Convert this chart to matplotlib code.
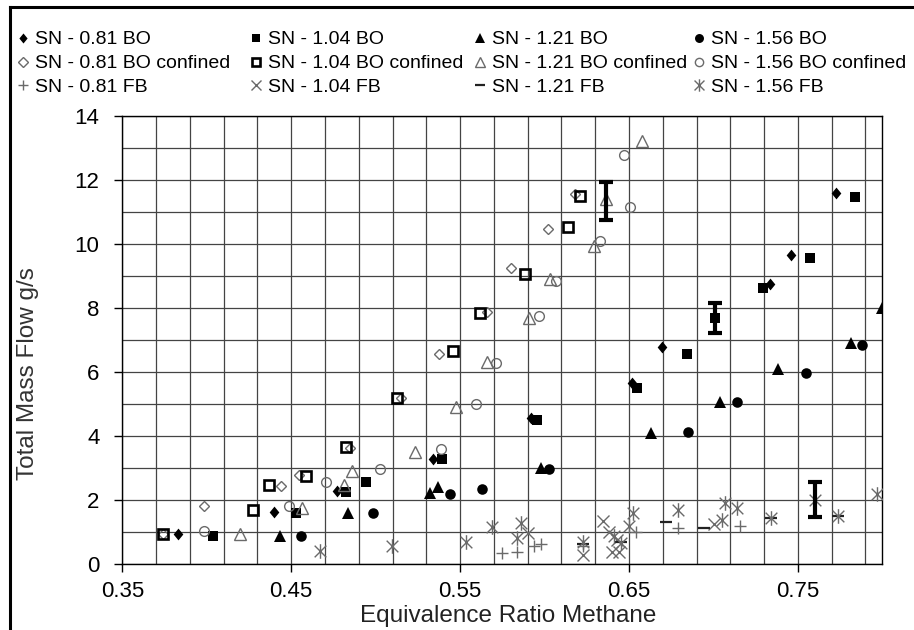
import numpy as np
import matplotlib
matplotlib.use("Agg")
import matplotlib.pyplot as plt
from matplotlib.path import Path
from matplotlib.lines import Line2D

plt.rcParams['font.family'] = ['Liberation Sans', 'DejaVu Sans']

# ---------------- data ----------------
sn_labels = ["SN - 0.81", "SN - 1.04", "SN - 1.21", "SN - 1.56"]

# Burn-out (BO), open
bo_081_x = [0.3832, 0.4397, 0.4771, 0.5338, 0.5917, 0.6520, 0.6693, 0.7335, 0.7462, 0.7725]
bo_081_y = [0.94, 1.62, 2.28, 3.27, 4.56, 5.65, 6.78, 8.73, 9.64, 11.59]
bo_104_x = [0.4039, 0.4530, 0.4826, 0.4945, 0.5395, 0.5956, 0.6545, 0.6845, 0.7009, 0.7296, 0.7572, 0.7839]
bo_104_y = [0.88, 1.60, 2.24, 2.56, 3.27, 4.49, 5.50, 6.55, 7.67, 8.60, 9.54, 11.46]
bo_121_x = [0.4435, 0.4834, 0.5320, 0.5370, 0.5980, 0.6628, 0.7039, 0.7380, 0.7814, 0.7997]
bo_121_y = [0.88, 1.60, 2.23, 2.41, 3.00, 4.08, 5.06, 6.08, 6.89, 7.98]
bo_156_x = [0.4559, 0.4984, 0.5438, 0.5630, 0.6025, 0.6849, 0.7142, 0.7547, 0.7877]
bo_156_y = [0.86, 1.58, 2.17, 2.33, 2.95, 4.11, 5.05, 5.96, 6.83]

# Burn-out, confined
cf_081_x = [0.3740, 0.3984, 0.4439, 0.4547, 0.4846, 0.5150, 0.5373, 0.5660, 0.5802, 0.6022, 0.6183]
cf_081_y = [0.94, 1.81, 2.42, 2.77, 3.63, 5.19, 6.57, 7.87, 9.23, 10.45, 11.54]
cf_104_x = [0.3740, 0.4271, 0.4368, 0.4587, 0.4826, 0.5126, 0.5459, 0.5620, 0.5883, 0.6138, 0.6213]
cf_104_y = [0.94, 1.68, 2.46, 2.75, 3.66, 5.19, 6.66, 7.85, 9.04, 10.52, 11.48]
cf_121_x = [0.4198, 0.4563, 0.4814, 0.4860, 0.5231, 0.5478, 0.5660, 0.5911, 0.6031, 0.6292, 0.6366, 0.6575]
cf_121_y = [0.93, 1.74, 2.46, 2.90, 3.50, 4.91, 6.29, 7.67, 8.89, 9.93, 11.38, 13.20]
cf_156_x = [0.3984, 0.4488, 0.4706, 0.5027, 0.5387, 0.5597, 0.5713, 0.5966, 0.6069, 0.6328, 0.6505, 0.6470]
cf_156_y = [1.02, 1.81, 2.56, 2.96, 3.59, 4.98, 6.26, 7.74, 8.83, 10.08, 11.13, 12.78]

# Flashback (FB)
fb_081_x = [0.5749, 0.5838, 0.5940, 0.5982, 0.6227, 0.6540, 0.6792, 0.7157]
fb_081_y = [0.33, 0.38, 0.57, 0.62, 0.55, 1.01, 1.11, 1.20]
fb_104_x = [0.5903, 0.6227, 0.6345, 0.6380, 0.6430, 0.6400, 0.6440, 0.7003]
fb_104_y = [0.96, 0.28, 1.35, 1.01, 0.75, 0.38, 0.38, 1.25]
fb_121_x = [0.6227, 0.6721, 0.6944, 0.7339, 0.7735, 0.6450]
fb_121_y = [0.62, 1.30, 1.11, 1.43, 1.51, 0.70]
fb_156_x = [0.4672, 0.5099, 0.5536, 0.5690, 0.5859, 0.5838, 0.6227, 0.6410, 0.6450, 0.6500,
            0.6526, 0.6792, 0.7053, 0.7068, 0.7142, 0.7339, 0.7602, 0.7735, 0.7968]
fb_156_y = [0.41, 0.56, 0.68, 1.16, 1.29, 0.80, 0.70, 0.87, 0.65, 1.19,
            1.60, 1.68, 1.37, 1.89, 1.74, 1.43, 2.00, 1.51, 2.17]

# error bars (x, y, lower, upper)
err_x = [0.6366, 0.7009, 0.7602]
err_y = [11.38, 7.67, 2.00]
err_lo = [10.73, 7.20, 1.48]
err_hi = [11.93, 8.15, 2.57]

x_ticks = [0.35, 0.45, 0.55, 0.65, 0.75]
y_ticks = [0, 2, 4, 6, 8, 10, 12, 14]

# ---------------- styles ----------------
GRAY = '#6a6a6a'
diamond = Path([(0, 1), (0.82, 0), (0, -1), (-0.82, 0), (0, 1)],
               [Path.MOVETO, Path.LINETO, Path.LINETO, Path.LINETO, Path.CLOSEPOLY])
asterisk = Path([(-1, -1), (1, 1), (-1, 1), (1, -1), (0, -1.25), (0, 1.25)],
                [Path.MOVETO, Path.LINETO, Path.MOVETO, Path.LINETO, Path.MOVETO, Path.LINETO])

bo_style = [dict(marker=diamond, ms=8.5, mfc='black', mec='black', mew=0),
            dict(marker='s', ms=7.6, mfc='black', mec='black', mew=0),
            dict(marker='^', ms=8.0, mfc='black', mec='black', mew=0),
            dict(marker='o', ms=7.6, mfc='black', mec='black', mew=0)]
cf_style = [dict(marker='D', ms=5.6, mfc='none', mec=GRAY, mew=1.0),
            dict(marker='s', ms=7.2, mfc='none', mec='black', mew=1.9),
            dict(marker='^', ms=8.5, mfc='none', mec=GRAY, mew=1.0),
            dict(marker='o', ms=7.0, mfc='none', mec=GRAY, mew=1.0)]
fb_style = [dict(marker='+', ms=8.0, mfc='none', mec=GRAY, mew=1.0),
            dict(marker='x', ms=8.5, mfc='none', mec=GRAY, mew=1.0),
            dict(marker='_', ms=8.0, mfc='none', mec='#222222', mew=1.6),
            dict(marker=asterisk, ms=10.5, mfc='none', mec=GRAY, mew=1.0)]

# ---------------- figure ----------------
W, H = 914, 630
fig = plt.figure(figsize=(W / 100, H / 100), dpi=100)
L, R, T, B = 122.3, 882.3, 115.5, 564.0
ax = fig.add_axes([L / W, 1 - B / H, (R - L) / W, (B - T) / H])

series = [
    (bo_081_x, bo_081_y, bo_style[0]), (bo_104_x, bo_104_y, bo_style[1]),
    (bo_121_x, bo_121_y, bo_style[2]), (bo_156_x, bo_156_y, bo_style[3]),
    (cf_081_x, cf_081_y, cf_style[0]), (cf_104_x, cf_104_y, cf_style[1]),
    (cf_121_x, cf_121_y, cf_style[2]), (cf_156_x, cf_156_y, cf_style[3]),
    (fb_081_x, fb_081_y, fb_style[0]), (fb_104_x, fb_104_y, fb_style[1]),
    (fb_121_x, fb_121_y, fb_style[2]), (fb_156_x, fb_156_y, fb_style[3]),
]
for xs, ys, st in series:
    ax.plot(xs, ys, linestyle='none', zorder=3, **st)

ey = np.array(err_y)
ax.errorbar(err_x, err_y, yerr=[ey - np.array(err_lo), np.array(err_hi) - ey],
            fmt='none', ecolor='black', elinewidth=3, capsize=5, capthick=3, zorder=4)

ax.set_xlim(0.35, 0.80)
ax.set_ylim(0, 14)
ax.set_xticks(x_ticks)
ax.set_xticklabels([f"{v:.2f}" for v in x_ticks])
ax.set_xticks(np.arange(0.35, 0.8001, 0.02), minor=True)
ax.set_yticks(y_ticks)
ax.set_yticklabels([str(v) for v in y_ticks])
ax.set_yticks(np.arange(0, 14.01, 1), minor=True)
ax.grid(True, which='both', color='#444444', linewidth=0.9)
ax.set_axisbelow(True)
ax.tick_params(axis='x', which='major', direction='out', length=6, width=1, pad=6, labelsize=16)
ax.tick_params(axis='y', which='major', direction='out', length=5.5, width=1, pad=11, labelsize=16)
ax.tick_params(which='minor', length=0)
for s in ax.spines.values():
    s.set_color('black')
    s.set_linewidth(1.0)

ax.set_xlabel('Equivalence Ratio Methane', fontsize=17.5, color='#222222')
ax.xaxis.set_label_coords((508 - L) / (R - L), -(616 - B) / (B - T))
ax.xaxis.label.set_va('center')
ax.set_ylabel('Total Mass Flow g/s', fontsize=17.5, color='#333333')
ax.yaxis.set_label_coords((28.5 - L) / (R - L), (B - 373.5) / (B - T))
ax.yaxis.label.set_va('center')

# ---------------- legend (manual, 3 rows x 4 columns) ----------------
col_mx = [23, 256, 480, 699]
row_y = [38, 62, 85]
row_names = ["BO", "BO confined", "FB"]
row_styles = [bo_style, cf_style, fb_style]
for r in range(3):
    for c in range(4):
        st = dict(row_styles[r][c])
        st['ms'] = st['ms'] * 0.85
        fig.add_artist(Line2D([col_mx[c] / W], [1 - row_y[r] / H], transform=fig.transFigure,
                              linestyle='none', **st))
        fig.text((col_mx[c] + 12) / W, 1 - row_y[r] / H, f"{sn_labels[c]} {row_names[r]}",
                 fontsize=14, ha='left', va='center_baseline', color='black')

# outer frame (left and top edges visible)
fig.add_artist(Line2D([9.5 / W, 9.5 / W], [0, 1 - 7 / H], transform=fig.transFigure,
                      color='black', linewidth=2.2))
fig.add_artist(Line2D([9.5 / W, 1], [1 - 7 / H, 1 - 7 / H], transform=fig.transFigure,
                      color='black', linewidth=2.2))

fig.savefig('out.png', dpi=100)
